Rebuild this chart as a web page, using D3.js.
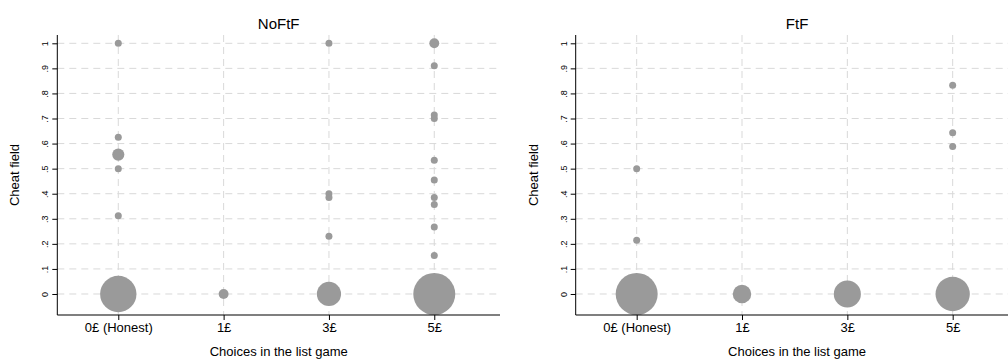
<!DOCTYPE html>
<html>
<head>
<meta charset="utf-8">
<script src="https://cdn.jsdelivr.net/npm/d3@7"></script>
<style>
html,body{margin:0;padding:0;background:#fff;}
svg{display:block;}
text{font-family:"Liberation Sans", Arial, Helvetica, sans-serif;fill:#000;}
</style>
</head>
<body>
<svg id="chart" width="1008" height="360"></svg>
<script>
// ---- data ----
const categories = ["0£ (Honest)", "1£", "3£", "5£"];
const yTicks = [0, 0.1, 0.2, 0.3, 0.4, 0.5, 0.6, 0.7, 0.8, 0.9, 1];
const yTickLabels = ["0", ".1", ".2", ".3", ".4", ".5", ".6", ".7", ".8", ".9", "1"];
const panelTitles = ["NoFtF", "FtF"];
const xTitle = "Choices in the list game";
const yTitle = "Cheat field";

// NoFtF panel: category index, cheat field value, weight (count)
const noFtFCat = [0, 0, 0, 0, 0, 0, 1, 2, 2, 2, 2, 2, 3, 3, 3, 3, 3, 3, 3, 3, 3, 3, 3];
const noFtFY   = [1.0, 0.625, 0.556, 0.5, 0.3125, 0, 0, 1.0, 0.4, 0.385, 0.23, 0, 1.0, 0.91, 0.714, 0.70, 0.533, 0.455, 0.385, 0.357, 0.267, 0.154, 0];
const noFtFN   = [1, 1, 3, 1, 1, 27, 2, 1, 1, 1, 1, 12, 2, 1, 1, 1, 1, 1, 1, 1, 1, 1, 36];

// FtF panel
const ftFCat = [0, 0, 0, 1, 2, 3, 3, 3, 3];
const ftFY   = [0.5, 0.214, 0, 0, 0, 0.833, 0.643, 0.588, 0];
const ftFN   = [1, 1, 36, 7, 15, 1, 1, 1, 24];

// ---- drawing ----
const svg = d3.select("#chart");
const plotTop = 35, plotBottom = 315;
const plotLefts = [57.3, 575.7];
const plotWidth = 442.7;

const y = d3.scaleLinear().domain([-0.0838, 1.0331]).range([plotBottom, plotTop]);
const r = d3.scaleSqrt().domain([0, 1]).range([0, 3.5]);
const dotColor = "#9a9a9a";
const gridColor = "#d9d9d9";

const panels = [
  {title: panelTitles[0], cat: noFtFCat, yv: noFtFY, n: noFtFN},
  {title: panelTitles[1], cat: ftFCat, yv: ftFY, n: ftFN}
];

panels.forEach((p, i) => {
  const left = plotLefts[i];
  const x = d3.scaleLinear().domain([-0.579, 3.624]).range([left, left + plotWidth]);
  const g = svg.append("g");

  // grid
  g.append("g").selectAll("line").data(yTicks).join("line")
    .attr("x1", left).attr("x2", left + plotWidth)
    .attr("y1", d => y(d)).attr("y2", d => y(d))
    .attr("stroke", gridColor).attr("stroke-width", 1)
    .attr("stroke-dasharray", "7,5");
  g.append("g").selectAll("line").data(categories.map((c, k) => k)).join("line")
    .attr("x1", d => x(d)).attr("x2", d => x(d))
    .attr("y1", plotTop).attr("y2", plotBottom)
    .attr("stroke", gridColor).attr("stroke-width", 1)
    .attr("stroke-dasharray", "7,5");

  // points
  const pts = p.cat.map((c, k) => ({c: c, v: p.yv[k], n: p.n[k]}))
    .sort((a, b) => b.n - a.n);
  g.append("g").selectAll("circle").data(pts).join("circle")
    .attr("cx", d => x(d.c)).attr("cy", d => y(d.v))
    .attr("r", d => r(d.n))
    .attr("fill", dotColor);

  // y axis
  const yAxis = d3.axisLeft(y).tickValues(yTicks)
    .tickFormat((d, k) => yTickLabels[k]).tickSize(5).tickPadding(4);
  const ya = g.append("g").attr("transform", `translate(${left},0)`).call(yAxis);
  ya.select(".domain").attr("d", `M0,${plotTop}V${plotBottom}`).attr("stroke", "#000");
  ya.selectAll(".tick line").attr("stroke", "#000");
  ya.selectAll(".tick text")
    .attr("font-size", 9)
    .attr("font-family", "Liberation Sans, Arial, sans-serif")
    .attr("text-anchor", "middle")
    .attr("x", null).attr("dy", null)
    .attr("transform", "translate(-12,0) rotate(-90)")
    .attr("y", 3);

  // x axis
  const xAxis = d3.axisBottom(x).tickValues([0, 1, 2, 3])
    .tickFormat(k => categories[k]).tickSize(5).tickPadding(4);
  const xa = g.append("g").attr("transform", `translate(0,${plotBottom})`).call(xAxis);
  xa.select(".domain").attr("d", `M${left},0H${left + plotWidth}`).attr("stroke", "#000").attr("stroke-width", 1.2);
  xa.selectAll(".tick line").attr("stroke", "#000");
  xa.selectAll(".tick text")
    .attr("font-size", 13)
    .attr("font-family", "Liberation Sans, Arial, sans-serif")
    .attr("dy", null).attr("y", 17);

  // titles
  g.append("text").attr("x", left + plotWidth / 2).attr("y", 28.5)
    .attr("text-anchor", "middle").attr("font-size", 15).text(p.title);
  g.append("text").attr("x", left + 221.4).attr("y", 356)
    .attr("text-anchor", "middle").attr("font-size", 13).text(xTitle);
  g.append("text")
    .attr("transform", `translate(${left - 38},${(plotTop + plotBottom) / 2}) rotate(-90)`)
    .attr("text-anchor", "middle").attr("font-size", 13).text(yTitle);
});
</script>
</body>
</html>
